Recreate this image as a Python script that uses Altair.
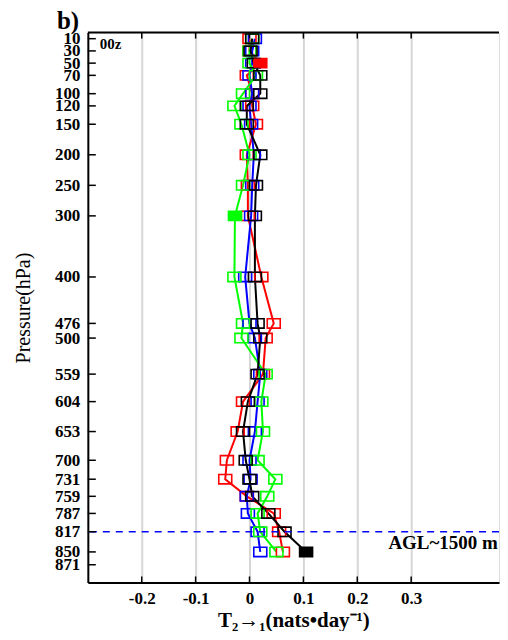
import altair as alt
import pandas as pd

# ---- data ----
levels = [10, 30, 50, 70, 100, 120, 150, 200, 250, 300, 400, 476, 500, 559,
          604, 653, 700, 731, 759, 787, 817, 850]
red = [0.0, 0.0, 0.02, -0.005, 0.005, 0.005, 0.012, -0.005, -0.003, -0.003,
       0.022, 0.045, 0.03, 0.025, -0.012, -0.022, -0.042, -0.045, -0.005,
       0.045, 0.055, 0.062]
blue = [0.01, 0.005, 0.005, 0.0, 0.005, 0.0, 0.003, 0.008, 0.005, 0.003,
        -0.008, 0.0, 0.01, 0.02, 0.015, 0.01, 0.0, 0.002, -0.005, -0.003,
        0.015, 0.02]
green = [0.005, 0.0, 0.0, 0.012, -0.012, -0.028, -0.015, 0.0, -0.012, -0.027,
         -0.028, -0.012, -0.015, 0.03, 0.022, 0.025, 0.015, 0.048, 0.033,
         0.015, 0.02, 0.05]
black = [0.005, 0.002, 0.008, 0.02, 0.02, -0.005, -0.005, 0.02, 0.012, 0.01,
         0.01, 0.015, 0.02, 0.015, -0.003, -0.012, -0.007, 0.0, 0.005, 0.035,
         0.065, 0.105]
filled_red = [50]
filled_blue = []
filled_green = [300]
filled_black = [850]

series_names = ["red", "blue", "green", "black"]
series_colors = ["#ff0000", "#0000ff", "#00ff00", "#000000"]

y_tick_values = [10, 30, 50, 70, 100, 120, 150, 200, 250, 300, 400, 476, 500,
                 559, 604, 653, 700, 731, 759, 787, 817, 850, 871]
x_tick_values = [-0.2, -0.1, 0, 0.1, 0.2, 0.3]
agl_level = [817]

# ---- build table ----
rows = []
for name, vals, filled in zip(series_names, [red, blue, green, black],
                              [filled_red, filled_blue, filled_green, filled_black]):
    for p, v in zip(levels, vals):
        rows.append({"series": name, "p": p, "t": v, "filled": p in filled})
df = pd.DataFrame(rows)

W, H = 412, 551
FONT = "Liberation Serif"

xscale = alt.Scale(domain=[-0.3, 0.463], nice=False, zero=False)
yscale = alt.Scale(domain=[0, 900], reverse=True, nice=False, zero=False)
color = alt.Color("series:N", scale=alt.Scale(domain=series_names, range=series_colors), legend=None)

x_axis = alt.Axis(values=x_tick_values, labelExpr="'' + datum.value",
                  title="T₂→₁(nats•day⁻¹)", titleFont=FONT, titleFontSize=21,
                  titleFontWeight="bold", titleColor="black", titlePadding=3,
                  labelFont=FONT, labelFontSize=17, labelFontWeight="bold",
                  labelColor="black", labelPadding=8, labelFlush=False,
                  ticks=False, grid=True, gridColor="#d6d6d6", gridWidth=2,
                  domainColor="black", domainWidth=2)
y_axis = alt.Axis(values=y_tick_values, title="Pressure(hPa)", titleFont=FONT,
                  titleFontSize=20, titleFontWeight="normal", titleColor="black",
                  titlePadding=21, labelFont=FONT, labelFontSize=17,
                  labelFontWeight="bold", labelColor="black", labelPadding=8,
                  labelOverlap=False, labelFlush=False, ticks=False, grid=False,
                  domainColor="black", domainWidth=2)

X = alt.X("t:Q", scale=xscale, axis=x_axis, title="T₂→₁(nats•day⁻¹)")
Y = alt.Y("p:Q", scale=yscale, axis=y_axis, title="Pressure(hPa)")

base = alt.Chart(df)
lines = base.mark_line(strokeWidth=2).encode(
    x=X, y=Y, color=color, order=alt.Order("p:Q"),
)
RECT = "M-1,-0.72L1,-0.72L1,0.72L-1,0.72Z"
open_pts = base.mark_point(shape=RECT, size=169, strokeWidth=1.6, filled=False, opacity=1).encode(
    x=X, y=Y, color=color,
)
full_pts = base.transform_filter("datum.filled").mark_point(
    shape=RECT, size=169, filled=True, opacity=1).encode(
    x=X, y=Y, color=color,
)

agl = alt.Chart(pd.DataFrame({"p": agl_level})).mark_rule(
    color="#0000ff", strokeDash=[7, 6], strokeWidth=1.5).encode(y=Y)

one = pd.DataFrame({"a": [0]})
top_line = alt.Chart(one).mark_rule(color="black", strokeWidth=2).encode(
    x=alt.value(0), x2=alt.value(W), y=alt.value(0))

xt = pd.DataFrame({"t": x_tick_values})
yt = pd.DataFrame({"p": y_tick_values})
bottom_ticks = alt.Chart(xt).mark_rule(color="black", strokeWidth=1.5).encode(
    x=X, y=alt.value(H - 6), y2=alt.value(H))
top_ticks = alt.Chart(xt).mark_rule(color="black", strokeWidth=1.5).encode(
    x=X, y=alt.value(0), y2=alt.value(6))
left_ticks = alt.Chart(yt).mark_rule(color="black", strokeWidth=1.5).encode(
    y=Y, x=alt.value(0), x2=alt.value(8))

txt_00z = alt.Chart(one).mark_text(align="left", baseline="middle", font=FONT,
                                   fontSize=15, fontWeight="bold", color="black").encode(
    x=alt.value(12), y=alt.value(11), text=alt.value("00z"))
txt_agl = alt.Chart(one).mark_text(align="center", baseline="middle", font=FONT,
                                   fontSize=19, fontWeight="bold", color="black").encode(
    x=alt.value(356), y=alt.value(511), text=alt.value("AGL~1500 m"))
txt_b = alt.Chart(one).mark_text(align="left", baseline="alphabetic", font=FONT,
                                 fontSize=25, fontWeight="bold", color="black").encode(
    x=alt.value(-31), y=alt.value(-4), text=alt.value("b)"))

chart = alt.layer(
    lines, open_pts, full_pts, agl, top_line, bottom_ticks, top_ticks, left_ticks,
    txt_00z, txt_agl, txt_b,
).properties(
    width=W, height=H,
    padding={"left": 5, "top": 0, "right": 0, "bottom": 0},
).configure_view(stroke="transparent").configure(background="white")

chart.save("out.html", embed_options={"renderer": "svg", "actions": False})
